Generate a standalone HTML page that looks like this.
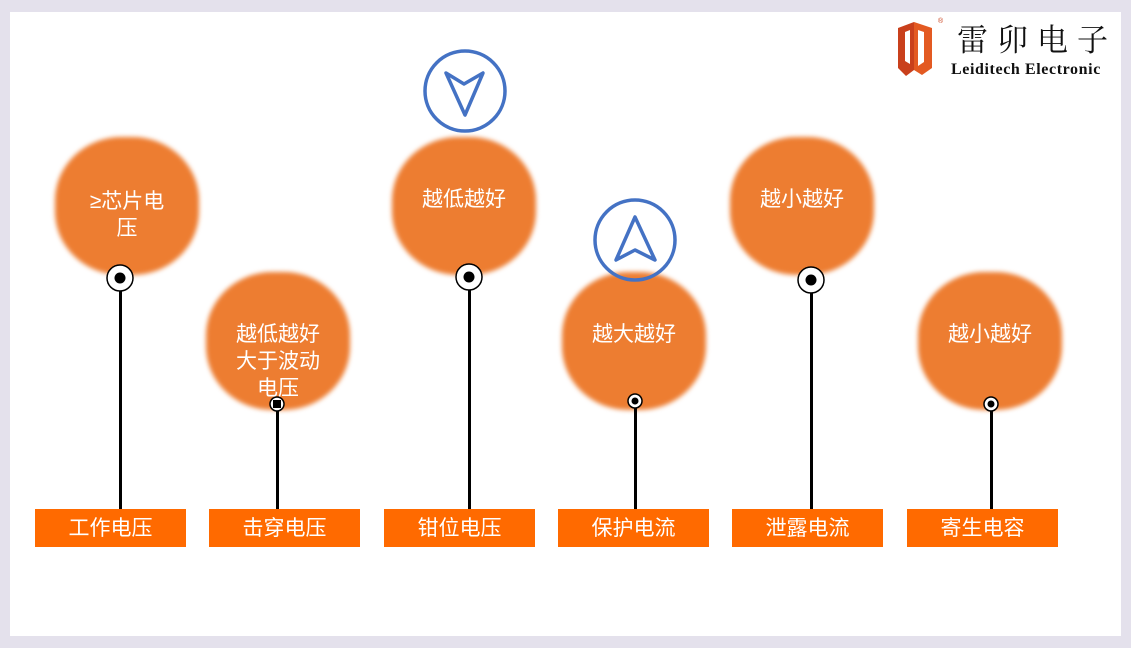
<!DOCTYPE html>
<html><head><meta charset="utf-8"><style>
body{margin:0;width:1131px;height:648px;background:#e4e1ec;position:relative;overflow:hidden;font-family:"Liberation Sans","Noto Sans CJK SC",sans-serif}
.panel{position:absolute;left:10px;top:12px;width:1111px;height:624px;background:#fff}
.blob{position:absolute;width:144px;height:138px;background:#ed7d31;border-radius:46%;filter:blur(2.5px)}
.t{position:absolute;color:#fff;font-size:21px;line-height:27px;text-align:center;width:144px}
.lab{position:absolute;top:509px;width:151px;height:38px;background:#ff6a00;color:#fff;font-size:21px;line-height:40px;text-align:center}
.ln{position:absolute;width:3px;background:#000}
</style></head><body>
<div class="panel"></div>
<div class="blob" style="left:55px;top:137px"></div>
<div class="blob" style="left:206px;top:272px"></div>
<div class="blob" style="left:392px;top:137px"></div>
<div class="blob" style="left:562px;top:272px"></div>
<div class="blob" style="left:730px;top:137px"></div>
<div class="blob" style="left:918px;top:272px"></div>
<div class="t" style="left:55px;top:188px">≥芯片电<br>压</div>
<div class="t" style="left:206px;top:321px">越低越好<br>大于波动<br>电压</div>
<div class="t" style="left:392px;top:186px">越低越好</div>
<div class="t" style="left:562px;top:321px">越大越好</div>
<div class="t" style="left:730px;top:186px">越小越好</div>
<div class="t" style="left:918px;top:321px">越小越好</div>
<div class="ln" style="left:119px;top:278px;height:231px"></div>
<div class="ln" style="left:276px;top:404px;height:105px"></div>
<div class="ln" style="left:468px;top:277px;height:232px"></div>
<div class="ln" style="left:634px;top:401px;height:108px"></div>
<div class="ln" style="left:810px;top:280px;height:229px"></div>
<div class="ln" style="left:990px;top:404px;height:105px"></div>
<svg width="1131" height="648" style="position:absolute;left:0;top:0">
<g stroke="#000" stroke-width="1.5" fill="#fff">
<circle cx="120" cy="278" r="13"/><circle cx="469" cy="277" r="13"/><circle cx="811" cy="280" r="13"/>
<circle cx="277" cy="404" r="7"/><circle cx="635" cy="401" r="7"/><circle cx="991" cy="404" r="7"/>
</g>
<g fill="#000"><circle cx="120" cy="278" r="5.5"/><circle cx="469" cy="277" r="5.5"/><circle cx="811" cy="280" r="5.5"/>
<rect x="273" y="400" width="8" height="8"/><circle cx="635" cy="401" r="3.5"/><circle cx="991" cy="404" r="3.5"/></g>
<g stroke="#4472c4" stroke-width="3.5" fill="none" stroke-linejoin="round">
<circle cx="465" cy="91" r="40"/><path d="M446 73 L464 84 L483 73 L465 115 Z"/>
<circle cx="635" cy="240" r="40"/><path d="M635 217 L655 260 L635 250 L616 260 Z"/>
</g>
<g>
<path d="M898 28 L914 22 L914 70 L906 76 L898 68 Z" fill="#c9401c"/>
<path d="M914 22 L932 28 L932 68 L922 75 L914 70 Z" fill="#e35a22"/>
<path d="M905 32 L910 30 L910 64 L905 61 Z M918 30 L924 32 L924 62 L918 66 Z" fill="#fff"/>
</g>
</svg>
<div style="position:absolute;left:938px;top:18px;font-size:7px;color:#c9401c">®</div>
<div style="position:absolute;left:957px;top:20px;font-size:31px;letter-spacing:9px;font-family:'Noto Serif CJK SC',serif;color:#111;line-height:36px">雷卯电子</div>
<div style="position:absolute;left:951px;top:61px;font-size:16px;font-weight:bold;font-family:'Liberation Serif',serif;color:#111;letter-spacing:0.6px">Leiditech Electronic</div>
<div class="lab" style="left:35px">工作电压</div>
<div class="lab" style="left:209px">击穿电压</div>
<div class="lab" style="left:384px">钳位电压</div>
<div class="lab" style="left:558px">保护电流</div>
<div class="lab" style="left:732px">泄露电流</div>
<div class="lab" style="left:907px">寄生电容</div>
</body></html>
